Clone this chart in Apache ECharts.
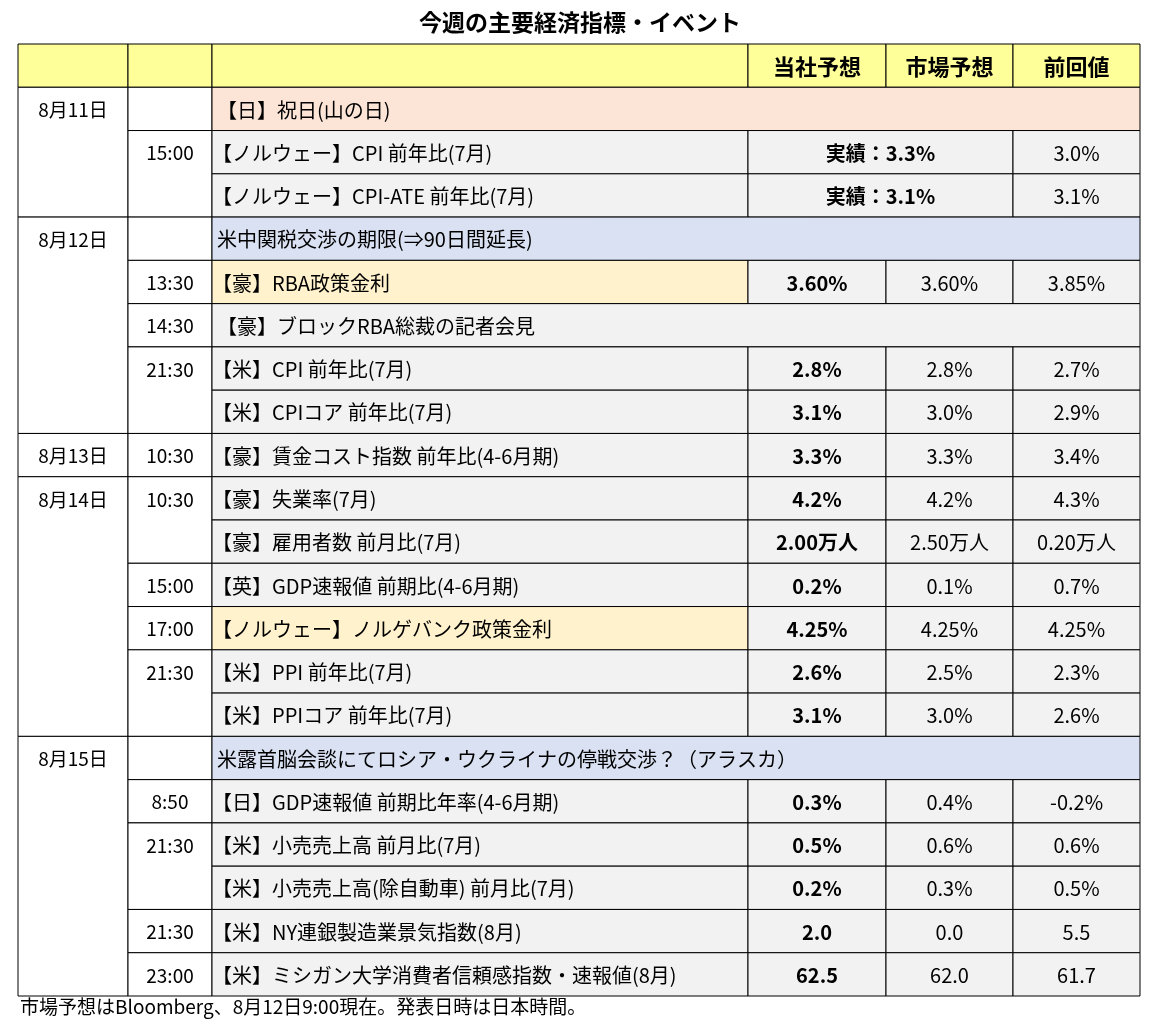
<!DOCTYPE html>
<html>
<head>
<meta charset="utf-8">
<script src="https://cdn.jsdelivr.net/npm/echarts@6/dist/echarts.min.js"></script>
<style>html,body{margin:0;padding:0;background:#fff}#main{width:1160px;height:1026px}</style>
</head>
<body>
<div id="main"></div>
<script>
// 列の境界（表の左端からの幅）と見出し
var colEdges = [0, 110, 194, 730, 868, 995, 1122];
var headers = ['', '', '', '当社予想', '市場予想', '前回値'];

// 日付: [ラベル, 開始行, 行数]
var dates = [['8月11日', 0, 3], ['8月12日', 3, 5], ['8月13日', 8, 1], ['8月14日', 9, 6], ['8月15日', 15, 6]];
// 時刻: [ラベル, 開始行, 行数]
var times = [['', 0, 1], ['15:00', 1, 2], ['', 3, 1], ['13:30', 4, 1], ['14:30', 5, 1], ['21:30', 6, 2],
	['10:30', 8, 1], ['10:30', 9, 2], ['15:00', 11, 1], ['17:00', 12, 1], ['21:30', 13, 2],
	['', 15, 1], ['8:50', 16, 1], ['21:30', 17, 2], ['21:30', 19, 1], ['23:00', 20, 1]];

// 指標名と行の種類
var items = ['【日】祝日(山の日)', '【ノルウェー】CPI 前年比(7月)', '【ノルウェー】CPI-ATE 前年比(7月)',
	'米中関税交渉の期限(⇒90日間延長)', '【豪】RBA政策金利', '【豪】ブロックRBA総裁の記者会見',
	'【米】CPI 前年比(7月)', '【米】CPIコア 前年比(7月)', '【豪】賃金コスト指数 前年比(4-6月期)',
	'【豪】失業率(7月)', '【豪】雇用者数 前月比(7月)', '【英】GDP速報値 前期比(4-6月期)',
	'【ノルウェー】ノルゲバンク政策金利', '【米】PPI 前年比(7月)', '【米】PPIコア 前年比(7月)',
	'米露首脳会談にてロシア・ウクライナの停戦交渉？（アラスカ）', '【日】GDP速報値 前期比年率(4-6月期)',
	'【米】小売売上高 前月比(7月)', '【米】小売売上高(除自動車) 前月比(7月)', '【米】NY連銀製造業景気指数(8月)',
	'【米】ミシガン大学消費者信頼感指数・速報値(8月)'];
var kinds = ['holiday', 'actual', 'actual', 'event', 'hl', 'span', 'n', 'n', 'n', 'n', 'n', 'n', 'hl', 'n', 'n',
	'event', 'n', 'n', 'n', 'n', 'n'];

var ours = [null, '実績：3.3%', '実績：3.1%', null, '3.60%', null, '2.8%', '3.1%', '3.3%', '4.2%', '2.00万人', '0.2%',
	'4.25%', '2.6%', '3.1%', null, '0.3%', '0.5%', '0.2%', '2.0', '62.5'];
var market = [null, null, null, null, '3.60%', null, '2.8%', '3.0%', '3.3%', '4.2%', '2.50万人', '0.1%',
	'4.25%', '2.5%', '3.0%', null, '0.4%', '0.6%', '0.3%', '0.0', '62.0'];
var prev = [null, '3.0%', '3.1%', null, '3.85%', null, '2.7%', '2.9%', '3.4%', '4.3%', '0.20万人', '0.7%',
	'4.25%', '2.3%', '2.6%', null, '-0.2%', '0.6%', '0.5%', '5.5', '61.7'];

var JP = '"Noto Sans CJK JP", sans-serif';
var GREY = '#f2f2f2';

// セル: [c0, c1, 開始行, 行数, 文字, 背景, 揃え, 太字]
var cells = [];
for (var h = 0; h < 6; h++) {
	cells.push([h, h + 1, -1, 1, headers[h], '#ffff99', 'center', true]);
}
dates.forEach(function(d) {
	cells.push([0, 1, d[1], d[2], d[0], '#ffffff', 'center', false]);
});
times.forEach(function(t) {
	cells.push([1, 2, t[1], t[2], t[0], '#ffffff', 'center', false]);
});
items.forEach(function(name, i) {
	var k = kinds[i];
	if (k == 'holiday' || k == 'event' || k == 'span') {
		var bg = k == 'holiday' ? '#fce4d6' : (k == 'event' ? '#d9e1f2' : GREY);
		cells.push([2, 6, i, 1, name, bg, 'left', false]);
		return;
	}
	cells.push([2, 3, i, 1, name, k == 'hl' ? '#fff2cc' : GREY, 'left', false]);
	if (k == 'actual') {
		cells.push([3, 5, i, 1, ours[i], GREY, 'center', true]);
	} else {
		cells.push([3, 4, i, 1, ours[i], GREY, 'center', true]);
		cells.push([4, 5, i, 1, market[i], GREY, 'center', false]);
	}
	cells.push([5, 6, i, 1, prev[i], GREY, 'center', false]);
});

var chart = echarts.init(document.getElementById('main'));
var option = {
	animation: false,
	title: {
		text: '今週の主要経済指標・イベント',
		left: 'center',
		top: 6,
		textStyle: { fontFamily: JP, fontSize: 23, fontWeight: 'bold', color: '#000' }
	},
	graphic: [{
		type: 'text', left: 20, top: 997,
		style: { text: '市場予想はBloomberg、8月12日9:00現在。発表日時は日本時間。', font: '19px ' + JP, fill: '#000' }
	}],
	grid: { left: 18, right: 20, top: 44, bottom: 30 },
	xAxis: { type: 'value', min: 0, max: 1122, show: false },
	yAxis: { type: 'value', min: -1, max: 21, inverse: true, show: false },
	series: [{
		type: 'custom',
		data: cells.map(function(c, i) { return [i]; }),
		renderItem: function(params, api) {
			var c = cells[api.value(0)];
			var p0 = api.coord([colEdges[c[0]], c[2]]);
			var p1 = api.coord([colEdges[c[1]], c[2] + c[3]]);
			var rowH = (api.coord([0, 1])[1] - api.coord([0, 0])[1]);
			var ty = p0[1] + rowH / 2 + 1;
			var tx = c[6] == 'left' ? p0[0] + (c[1] == 6 && c[0] == 2 ? 5 : 0) : (p0[0] + p1[0]) / 2;
			var isHead = c[2] == -1;
			var size = isHead ? 22 : (c[0] < 2 ? 19 : 20);
			var children = [{
				type: 'rect',
				shape: { x: p0[0], y: p0[1], width: p1[0] - p0[0], height: p1[1] - p0[1] },
				style: { fill: c[5], stroke: '#000', lineWidth: 1 }
			}];
			if (c[4]) {
				children.push({
					type: 'text',
					style: {
						text: c[4], x: tx, y: ty, align: c[6], verticalAlign: 'middle',
						font: (c[7] ? 'bold ' : '') + size + 'px ' + JP, fill: '#000'
					}
				});
			}
			return { type: 'group', children: children };
		}
	}]
};
chart.setOption(option);
</script>
</body>
</html>
